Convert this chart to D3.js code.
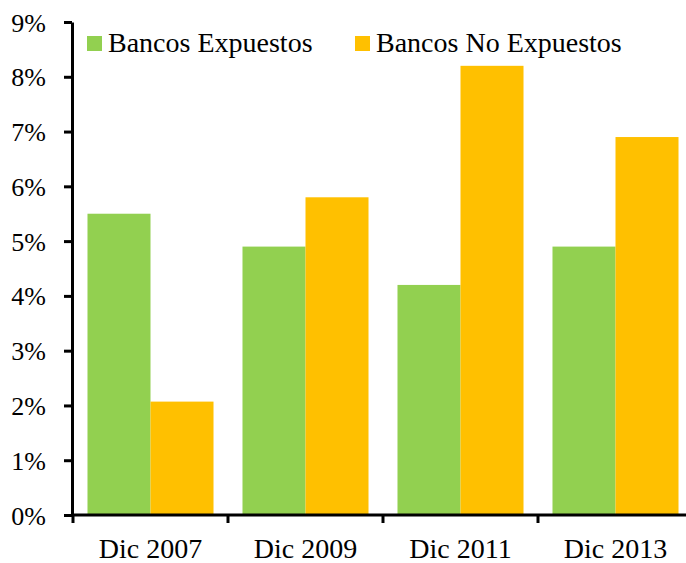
<!DOCTYPE html>
<html>
<head>
<meta charset="utf-8">
<script src="https://cdn.jsdelivr.net/npm/d3@7"></script>
<style>
  body { margin: 0; background: #fff; }
  svg text { font-family: "Liberation Serif", "Times New Roman", Times, "DejaVu Serif", serif; fill: #000; }
</style>
</head>
<body>
<svg id="chart"></svg>
<script>
// Chart size
const width = 686;
const height = 563;
const fontFam = "'Liberation Serif', 'Times New Roman', Times, 'DejaVu Serif', serif";

// Data
const periods = ["Dic 2007", "Dic 2009", "Dic 2011", "Dic 2013"];
const series = ["Bancos Expuestos", "Bancos No Expuestos"];
const expuestos = [5.5, 4.9, 4.2, 4.9];
const noExpuestos = [2.07, 5.8, 8.2, 6.9];
const yTicks = [0, 1, 2, 3, 4, 5, 6, 7, 8, 9];
const colors = ["#92d050", "#ffc000"];

const svg = d3.select("#chart")
              .attr("width", width)
              .attr("height", height)
              .attr("font-family", fontFam);

// Scales
const x = d3.scaleBand()
            .domain(periods)
            .range([73, 693])
            .paddingInner(0.187)
            .paddingOuter(0.0935);

const xSub = d3.scaleBand()
               .domain(series)
               .range([0, x.bandwidth()]);

const y = d3.scaleLinear()
            .domain([0, 9])
            .range([515, 22]);

// Bars
const rows = periods.map((p, i) => ({ period: p, values: [expuestos[i], noExpuestos[i]] }));

const groups = svg.selectAll("g.group")
   .data(rows)
   .enter().append("g")
   .attr("class", "group")
   .attr("transform", d => `translate(${x(d.period)},0)`);

groups.selectAll("rect")
   .data(d => d.values.map((v, k) => ({ key: series[k], value: v, k: k })))
   .enter().append("rect")
   .attr("x", d => xSub(d.key))
   .attr("y", d => y(d.value))
   .attr("width", xSub.bandwidth())
   .attr("height", d => y(0) - y(d.value))
   .attr("fill", d => colors[d.k]);

// Y axis
const yAxis = svg.append("g")
   .attr("transform", "translate(72,0)")
   .call(d3.axisLeft(y)
           .tickValues(yTicks)
           .tickFormat(d => d + "%")
           .tickSize(8)
           .tickSizeOuter(0)
           .tickPadding(18));
yAxis.attr("font-family", fontFam);
yAxis.select(".domain").attr("stroke", "#000").attr("stroke-width", 3);
yAxis.selectAll(".tick line").attr("stroke", "#000").attr("stroke-width", 3);
yAxis.selectAll(".tick text")
     .style("font-size", "26px")
     .style("font-family", fontFam)
     .attr("dy", "0.35em");

// X axis with ticks at category boundaries
const xAxis = svg.append("g")
   .attr("transform", `translate(0,${y(0)})`);
xAxis.append("line")
     .attr("x1", 71).attr("x2", width)
     .attr("stroke", "#000").attr("stroke-width", 3);
const boundaries = periods.map(p => x(p) - x.step() * x.paddingInner() / 2);
xAxis.selectAll("line.tick")
     .data(boundaries)
     .enter().append("line")
     .attr("class", "tick")
     .attr("x1", d => d).attr("x2", d => d)
     .attr("y1", 0).attr("y2", 8)
     .attr("stroke", "#000").attr("stroke-width", 3);
xAxis.selectAll("text")
     .data(periods)
     .enter().append("text")
     .attr("x", d => x(d) + x.bandwidth() / 2)
     .attr("y", 43)
     .attr("text-anchor", "middle")
     .style("font-size", "28px")
     .style("font-family", fontFam)
     .text(d => d);

// Legend
const legendX = [87, 355];
const legend = svg.selectAll("g.legend")
   .data(series)
   .enter().append("g")
   .attr("class", "legend")
   .attr("transform", (d, i) => `translate(${legendX[i]},36)`);
legend.append("rect")
      .attr("width", 15).attr("height", 15)
      .attr("fill", (d, i) => colors[i]);
legend.append("text")
      .attr("x", 21).attr("y", 16)
      .style("font-size", "28px")
      .style("font-family", fontFam)
      .text(d => d);
</script>
</body>
</html>
